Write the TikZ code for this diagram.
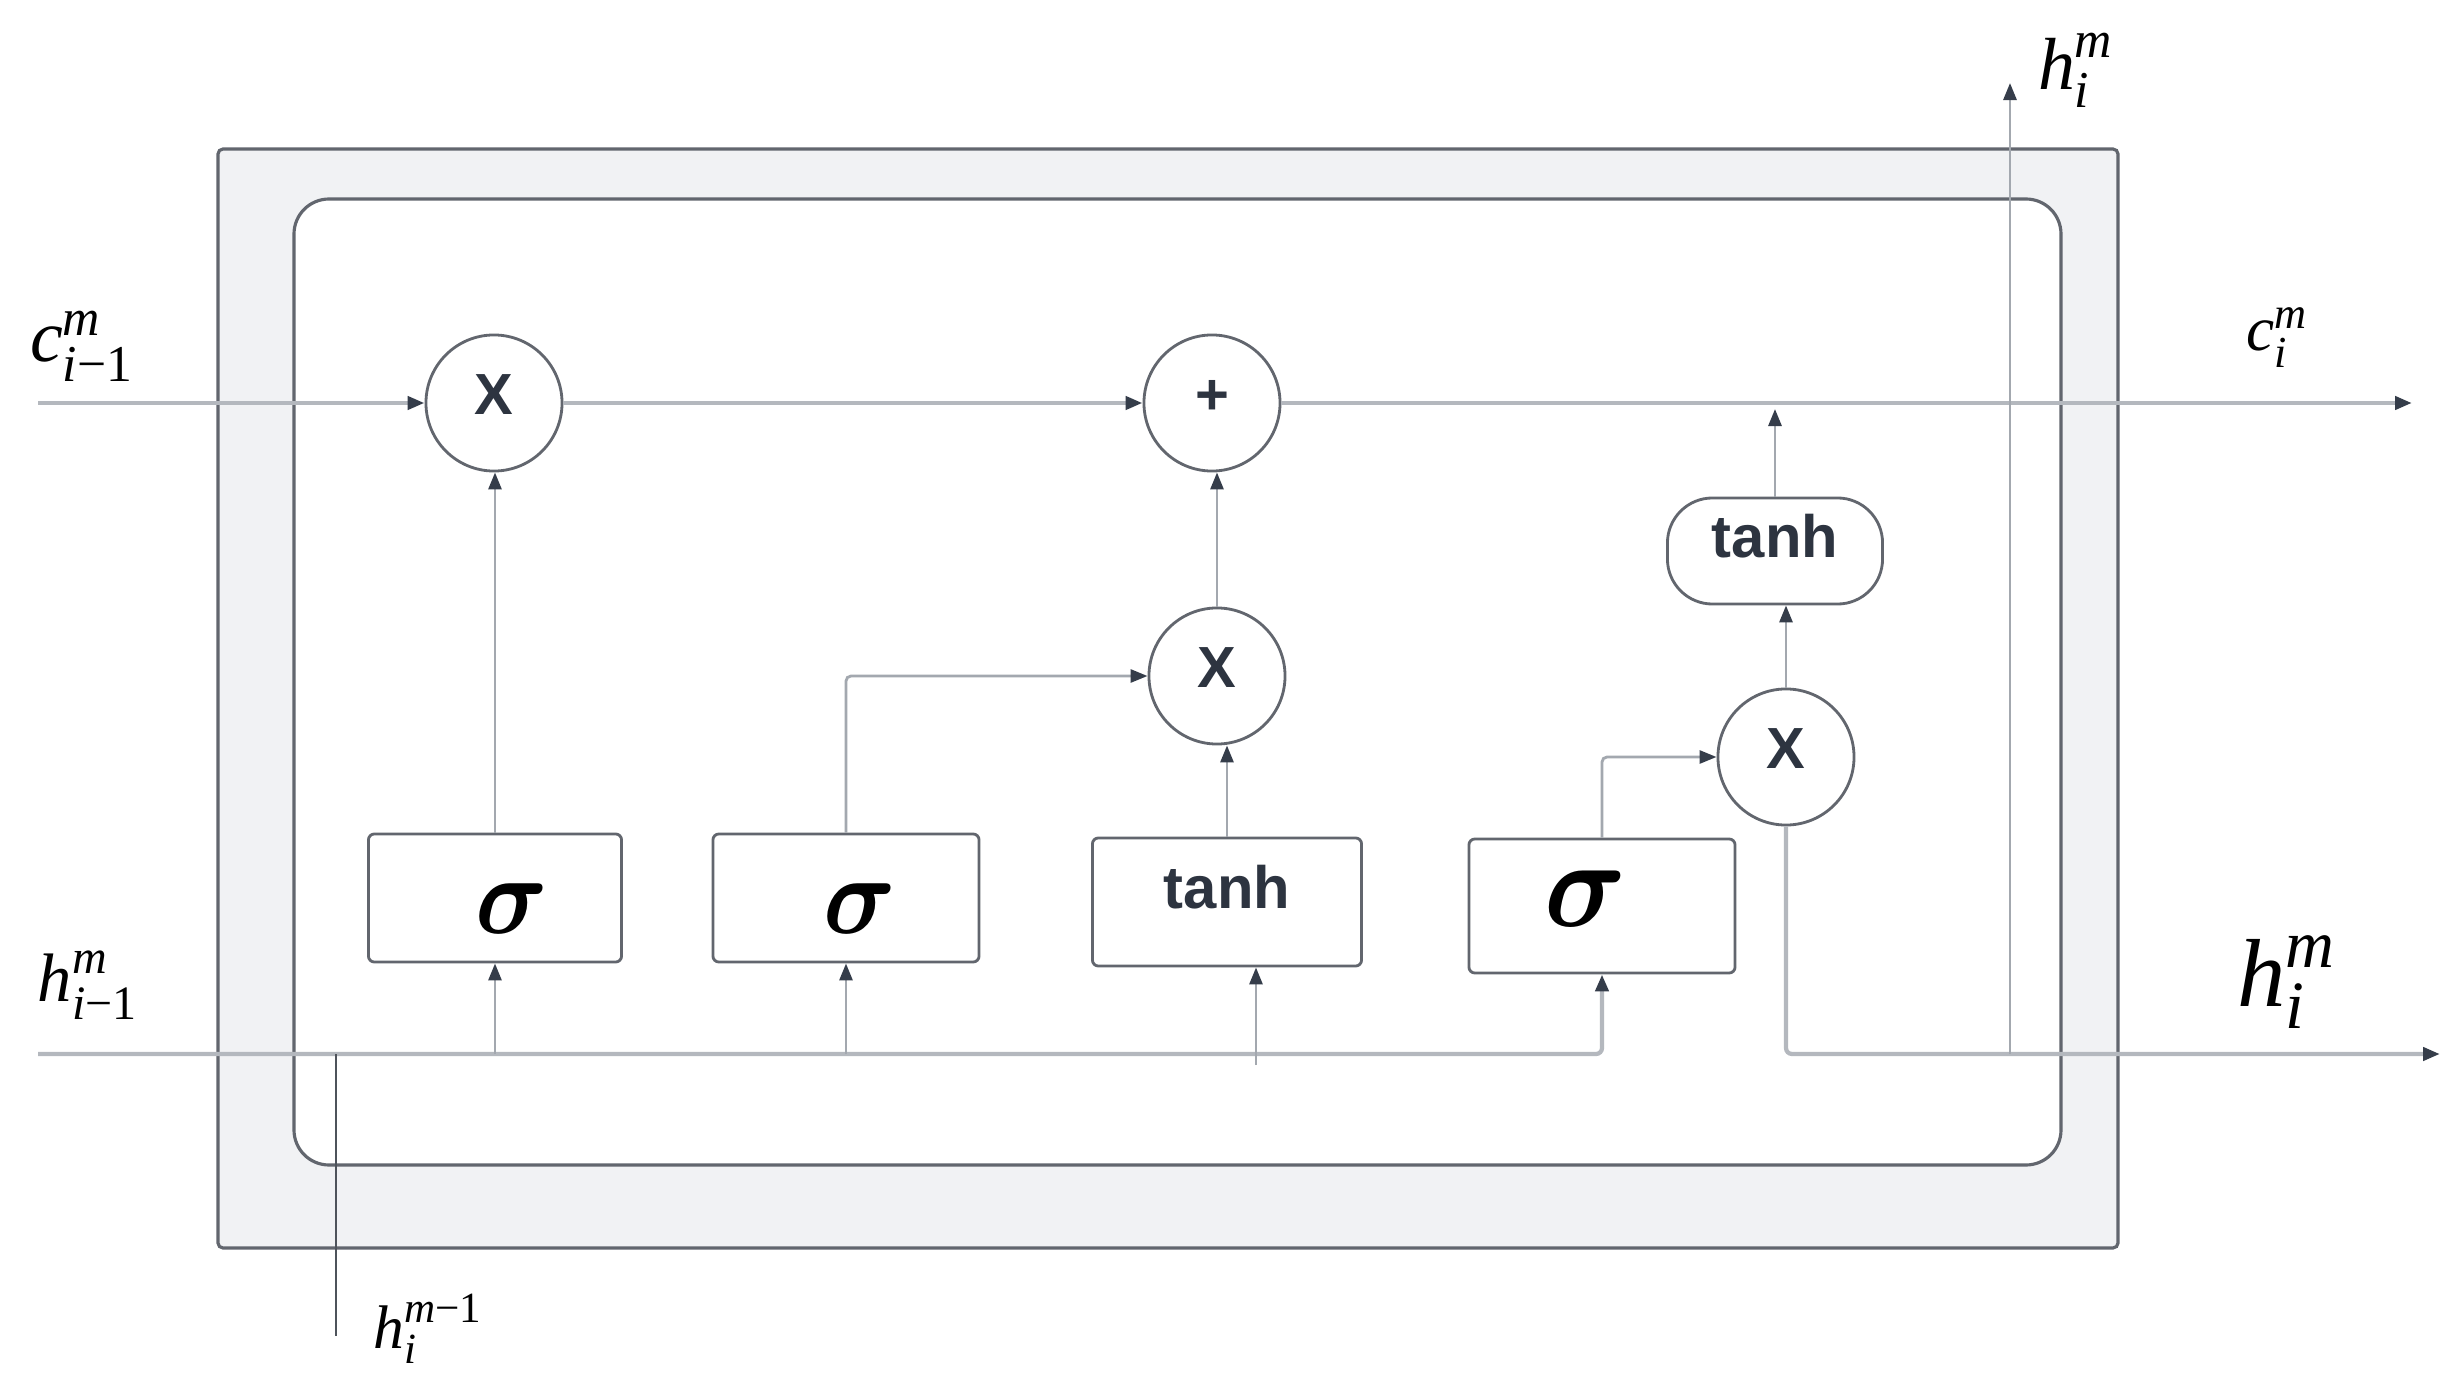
\documentclass[tikz,border=0pt]{standalone}
\usepackage{amsmath}
\usepackage{fontspec}
\setmainfont{Liberation Serif}
\newfontfamily\lsans{Liberation Sans}
\usetikzlibrary{arrows.meta}
\definecolor{outerfill}{HTML}{F1F2F4}
\definecolor{borderc}{HTML}{62666E}
\definecolor{lineg}{HTML}{B4B8BE}
\definecolor{conng}{HTML}{A3A8AF}
\definecolor{arrowc}{HTML}{353D4A}
\definecolor{textc}{HTML}{2D3440}
\definecolor{darkl}{HTML}{4E535B}
\tikzset{
  thickline/.style={draw=lineg, line width=1.2pt},
  conn/.style={draw=conng, line width=0.8pt},
  arr/.style={-{Triangle[length=0.17cm,width=0.13cm,color=arrowc]}},
  opc/.style={circle, draw=borderc, line width=0.8pt, fill=white, minimum size=1.36cm, inner sep=0pt,
    font=\lsans\bfseries\fontsize{16.5}{18}\selectfont, text=textc, text height=0.4cm, text depth=0.18cm},
  gbox/.style={rectangle, rounded corners=0.06cm, draw=borderc, line width=0.8pt, fill=white, inner sep=0pt,
    minimum height=1.28cm},
  sig/.style={gbox, font=\fontsize{24.88}{26}\selectfont, text=black, text height=0.71cm, text depth=0cm},
  tanhbox/.style={gbox, font=\lsans\bfseries\fontsize{17}{18}\selectfont, text=textc, text height=0.45cm, text depth=0.33cm},
  stad/.style={rectangle, rounded corners=0.45cm, draw=borderc, line width=0.8pt, fill=white, inner sep=0pt,
    minimum width=2.15cm, minimum height=1.06cm,
    font=\lsans\bfseries\fontsize{17}{18}\selectfont, text=textc, text height=0.42cm, text depth=0.30cm},
  lbl/.style={inner sep=0pt, text=black}
}
\begin{document}
\begin{tikzpicture}[x=0.01cm,y=-0.01cm]
\useasboundingbox (0,0) rectangle (2462,1382);
% containers
\draw[fill=outerfill, draw=borderc, line width=0.9pt, rounded corners=0.05cm] (218,149) rectangle (2118,1248);
\draw[fill=white, draw=borderc, line width=0.9pt, rounded corners=0.35cm] (294,199) rectangle (2061,1165);
% operation circles
\node[opc] (x1) at (494,403) {X};
\node[opc] (plus) at (1212,403) {+};
\node[opc] (x2) at (1217,676) {X};
\node[opc] (x3) at (1786,757) {X};
% gate boxes
\node[sig, minimum width=2.53cm] (s1) at (495,898) {\hspace*{0.34cm}\scalebox{1.15}[1.28]{$\boldsymbol{\sigma}$}};
\node[sig, minimum width=2.66cm] (s2) at (846,898) {\hspace*{0.28cm}\scalebox{1.15}[1.28]{$\boldsymbol{\sigma}$}};
\node[tanhbox, minimum width=2.69cm] (t1) at (1227,902) {tanh};
\node[sig, minimum width=2.66cm, minimum height=1.34cm, text height=0.57cm, text depth=0.16cm] (s4) at (1602,906) {\scalebox{1.3}[1.43]{$\boldsymbol{\sigma}$}\hspace*{0.32cm}};
\node[stad] (tt) at (1775,551) {tanh};
% coordinates
\coordinate (cin) at (38,403);
\coordinate (cout) at (2412,403);
\coordinate (hin) at (38,1054);
\coordinate (hout) at (2440,1054);
\coordinate (tb) at (1256,1065);
\coordinate (cj) at (1775,409);
\coordinate (hup) at (2010,83);
\coordinate (hdown) at (336,1336);
% cell state line
\draw[thickline, arr] (cin) -- (x1);
\draw[thickline, arr] (x1) -- (plus);
\draw[thickline, arr] (plus) -- (cout);
% hidden input line
\draw[thickline, arr, rounded corners=0.06cm] (hin) -| (s4.south);
\draw[conn, arr] (s1.south |- hin) -- (s1.south);
\draw[conn, arr] (s2.south |- hin) -- (s2.south);
\draw[conn, arr] (tb) -- (tb |- t1.south);
% gates to operations
\draw[conn, arr] (s1.north) -- (s1.north |- x1.south);
\draw[conn, arr, rounded corners=0.05cm] (s2.north) |- (x2.west);
\draw[conn, arr] (t1.north) -- (t1.north |- x2.south);
\draw[conn, arr] (x2.north) -- (x2.north |- plus.south);
\draw[conn, arr, rounded corners=0.05cm] (s4.north) |- (x3.west);
\draw[conn, arr] (x3.north) -- (x3.north |- tt.south);
\draw[conn, arr] (tt.north) -- (cj);
% outputs
\draw[thickline, arr, rounded corners=0.06cm] (x3.south) |- (hout);
\draw[conn, arr] (hup |- hout) -- (hup);
\draw[draw=darkl, line width=0.8pt] (hdown |- hin) -- (hdown);
% labels
\node[lbl, font=\fontsize{21}{23}\selectfont] (lc1) at (82,346) {$\textit{c}^{\textit{m}}_{\textit{i}\textrm{−1}}$};
\node[lbl, font=\fontsize{18}{20}\selectfont] (lc2) at (2277,338) {$\textit{c}^{\textit{m}}_{\textit{i}}$};
\node[lbl, font=\fontsize{21}{23}\selectfont] (lh1) at (2076,70) {$\textit{h}^{\textit{m}}_{\textit{i}}$};
\node[lbl, font=\fontsize{19.5}{21}\selectfont] (lh2) at (88,985) {$\textit{h}^{\textit{m}}_{\textit{i}\textrm{−1}}$};
\node[lbl, font=\fontsize{27.5}{30}\selectfont] (lh3) at (2287,982) {$\textit{h}^{\textit{m}}_{\textit{i}}$};
\node[lbl, font=\fontsize{17.5}{19}\selectfont] (lh4) at (428,1329) {$\textit{h}^{\textit{m}\textrm{−1}}_{\textit{i}}$};
\end{tikzpicture}
\end{document}
